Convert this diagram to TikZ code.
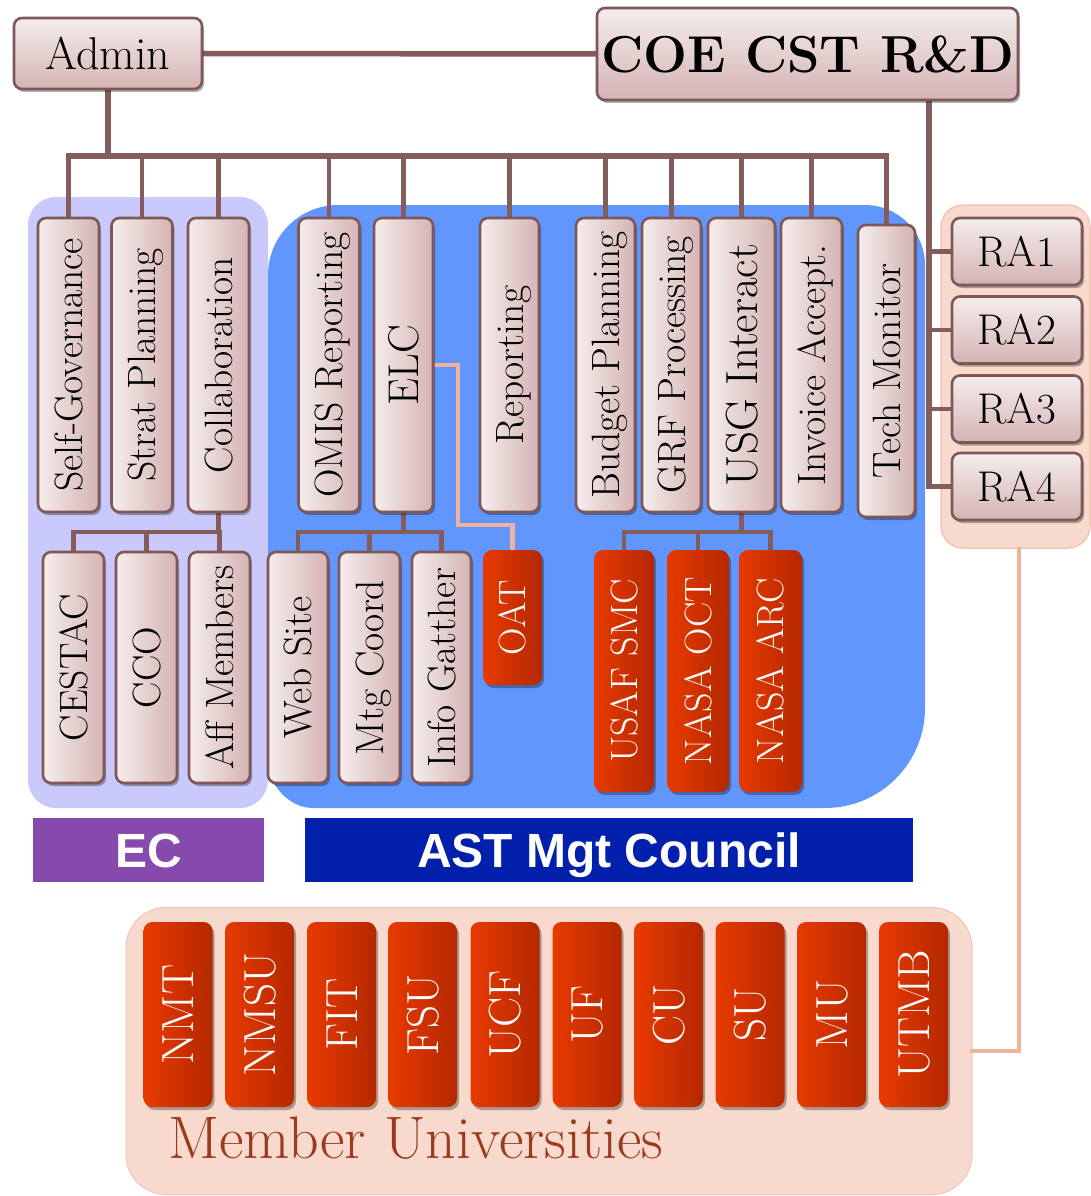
\documentclass[tikz,border=0pt]{standalone}
\usepackage{fontspec}
\newfontfamily\labfont{Liberation Sans}
\usetikzlibrary{shadows}
\definecolor{boxl}{HTML}{F5EDED}
\definecolor{boxd}{HTML}{D5B3B3}
\definecolor{bord}{HTML}{7E5757}
\definecolor{busc}{HTML}{845C5C}
\definecolor{redl}{HTML}{E83A00}
\definecolor{redd}{HTML}{B42800}
\definecolor{lilac}{HTML}{C9C9FB}
\definecolor{bluereg}{HTML}{6196FD}
\definecolor{salreg}{HTML}{F7D9CD}
\definecolor{saledge}{HTML}{F1C6B6}
\definecolor{salline}{HTML}{F0B29C}
\definecolor{ecpurple}{HTML}{8649AC}
\definecolor{astblue}{HTML}{0320AC}
\definecolor{memtxt}{HTML}{9B3B1E}
\pgfdeclarelayer{bgzero}
\pgfdeclarelayer{bgone}
\pgfsetlayers{bgzero,bgone,main}
\newcommand\vt[1]{\rotatebox{90}{\raisebox{0pt}[0.7em][0pt]{#1}}}
\tikzset{
  shad/.style={drop shadow={shadow xshift=2pt,shadow yshift=-3pt,opacity=0.3,fill=black}},
  pinkbox/.style={draw=bord, line width=2.6pt, rounded corners=8pt, inner sep=0pt, shad},
  vbox/.style={pinkbox, left color=boxl, right color=boxd, font=\fontsize{39.5}{40}\selectfont},
  hbox/.style={pinkbox, top color=boxl, bottom color=boxd},
  redbox/.style={rounded corners=9pt, inner sep=0pt, left color=redl, right color=redd, text=white, shad, font=\fontsize{38}{38}\selectfont},
  unibox/.style={redbox, font=\fontsize{45}{45}\selectfont, minimum width=69pt, minimum height=185pt},
  busline/.style={draw=busc, line width=5.5pt, line cap=rect},
  dropline/.style={draw=busc, line width=4.5pt, line cap=rect},
  salm/.style={draw=salline, line width=4.5pt, line cap=rect},
  tag/.style={inner sep=0pt, text=white, font=\labfont\bfseries\fontsize{48}{48}\selectfont, minimum height=64pt, text height=34.4pt, text depth=0pt},
}
\begin{document}
\begin{tikzpicture}[x=1pt,y=-1pt]
\useasboundingbox (0,0) rectangle (1090,1196);

% ---------- background regions ----------
\begin{pgfonlayer}{bgzero}
\node[fill=lilac, rounded corners=28pt, minimum width=240pt, minimum height=611pt, inner sep=0pt] (ecreg) at (148,502.5) {};
\fill[bluereg] (268,275) .. controls (268,236.4) and (299.4,205) .. (338,205)
  -- (865,205) .. controls (898.1,205) and (925,231.9) .. (925,265)
  -- (925,708) .. controls (925,763.2) and (880.2,808) .. (825,808)
  -- (313,808) .. controls (288.2,808) and (268,783.2) .. (268,763) -- cycle;
\node[fill=salreg, draw=saledge, line width=1.5pt, rounded corners=22pt, minimum width=149pt, minimum height=343pt, inner sep=0pt] (rareg) at (1015.5,376.5) {};
\node[fill=salreg, draw=saledge, line width=1pt, rounded corners=40pt, minimum width=846pt, minimum height=287pt, inner sep=0pt] (memreg) at (549,1051) {};
\end{pgfonlayer}

% ---------- top boxes ----------
\node[hbox, minimum width=188pt, minimum height=71pt, font=\fontsize{46}{46}\selectfont] (admin) at (108,53.5) {Admin};
\node[hbox, minimum width=421pt, minimum height=92pt, font=\bfseries\fontsize{52}{52}\selectfont] (coe) at (807.5,54) {COE CST R\&D};

% ---------- first row ----------
\node[vbox, minimum width=61pt, minimum height=294pt] (sg) at (68.5,365) {\vt{Self-Governance}};
\node[vbox, minimum width=61pt, minimum height=294pt] (sp) at (142,365) {\vt{Strat Planning}};
\node[vbox, minimum width=61pt, minimum height=294pt] (col) at (218.5,365) {\vt{Collaboration}};
\node[vbox, minimum width=61pt, minimum height=294pt] (omis) at (329,365) {\vt{OMIS Reporting}};
\node[vbox, minimum width=59pt, minimum height=294pt, font=\fontsize{43}{43}\selectfont] (elc) at (403.5,365) {\vt{ELC}};
\node[vbox, minimum width=59pt, minimum height=294pt] (rep) at (509.5,365) {\vt{Reporting}};
\node[vbox, minimum width=59pt, minimum height=294pt] (bud) at (605.5,365) {\vt{Budget Planning}};
\node[vbox, minimum width=59pt, minimum height=294pt] (grf) at (671.5,365) {\vt{GRF Processing}};
\node[vbox, minimum width=67pt, minimum height=294pt, font=\fontsize{45}{45}\selectfont] (usg) at (741.5,365) {\vt{USG Interact}};
\node[vbox, minimum width=61pt, minimum height=294pt] (inv) at (811.5,365) {\vt{Invoice Accept.}};
\node[vbox, minimum width=57pt, minimum height=292pt] (tm) at (886.5,371) {\vt{Tech Monitor}};

% ---------- RA boxes ----------
\node[hbox, minimum width=130pt, minimum height=67pt, font=\fontsize{43}{43}\selectfont] (ra1) at (1017,251.5) {RA1};
\node[hbox, minimum width=130pt, minimum height=67pt, font=\fontsize{43}{43}\selectfont] (ra2) at (1017,330) {RA2};
\node[hbox, minimum width=130pt, minimum height=67pt, font=\fontsize{43}{43}\selectfont] (ra3) at (1017,409) {RA3};
\node[hbox, minimum width=130pt, minimum height=67pt, font=\fontsize{43}{43}\selectfont] (ra4) at (1017,486.5) {RA4};

% ---------- second row ----------
\node[vbox, minimum width=61pt, minimum height=231pt] (cestac) at (73.5,667.5) {\vt{CESTAC}};
\node[vbox, minimum width=61pt, minimum height=231pt] (cco) at (146.5,667.5) {\vt{CCO}};
\node[vbox, minimum width=61pt, minimum height=231pt] (aff) at (219.5,667.5) {\vt{Aff Members}};
\node[vbox, minimum width=60pt, minimum height=231pt] (web) at (298,667.5) {\vt{Web Site}};
\node[vbox, minimum width=61pt, minimum height=231pt] (mtg) at (369.5,667.5) {\vt{Mtg Coord}};
\node[vbox, minimum width=59pt, minimum height=231pt] (info) at (441.5,667.5) {\vt{Info Gatther}};
\node[redbox, minimum width=59pt, minimum height=135pt] (oat) at (512.5,617.5) {\vt{OAT}};
\node[redbox, minimum width=60pt, minimum height=242pt] (usaf) at (624,671) {\vt{USAF SMC}};
\node[redbox, minimum width=62pt, minimum height=242pt] (noct) at (698,671) {\vt{NASA OCT}};
\node[redbox, minimum width=63pt, minimum height=242pt] (narc) at (770.5,671) {\vt{NASA ARC}};

% ---------- labels ----------
\node[tag, fill=ecpurple, minimum width=231pt] (ec) at (148.5,850) {EC};
\node[tag, fill=astblue, minimum width=608pt] (ast) at (609,850) {AST Mgt Council};

% ---------- universities ----------
\foreach \nm/\xx in {NMT/178, NMSU/259.5, FIT/341.5, FSU/422.5, UCF/505, UF/587, CU/668.5, SU/750, MU/831.5, UTMB/913.5}
  \node[unibox] (u\nm) at (\xx,1014.5) {\vt{\nm}};
\node[font=\fontsize{60}{60}\selectfont, text=memtxt, anchor=base west, inner sep=0pt] (memlab) at (168,1158) {Member Universities};

% ---------- connectors ----------
\begin{pgfonlayer}{bgone}
\coordinate (busy) at (0,156);
\coordinate (sby) at (0,532);
\draw[busline] (admin.east) -- (coe.west);
\draw[busline] (admin.south) -- (admin.south |- busy);
\draw[busline] (sg.north |- busy) -- (tm.north |- busy);
\foreach \n in {sg,sp,col,omis,elc,rep,bud,grf,usg,inv,tm}
  \draw[dropline] (\n.north) -- (\n.north |- busy);
% EC sub-tree
\draw[dropline] (col.south) -- (col.south |- sby);
\draw[dropline] (cestac.north |- sby) -- (aff.north |- sby);
\foreach \n in {cestac,cco,aff}
  \draw[dropline] (\n.north) -- (\n.north |- sby);
% ELC sub-tree
\draw[dropline] (elc.south) -- (elc.south |- sby);
\draw[dropline] (web.north |- sby) -- (info.north |- sby);
\foreach \n in {web,mtg,info}
  \draw[dropline] (\n.north) -- (\n.north |- sby);
% USG sub-tree
\draw[dropline] (usg.south) -- (usg.south |- sby);
\draw[dropline] (usaf.north |- sby) -- (narc.north |- sby);
\foreach \n in {usaf,noct,narc}
  \draw[dropline] (\n.north) -- (\n.north |- sby);
% OAT
\coordinate (oatk) at (458,525);
\draw[salm] (elc.east) -| (oatk) -| (oat.north);
% RA trunk
\coordinate (rat) at (929,0);
\draw[busline] (coe.south -| rat) -- (rat |- ra4.west);
\foreach \n in {ra1,ra2,ra3,ra4}
  \draw[dropline] (rat |- \n.west) -- (\n.west);
% RA region to member universities
\coordinate (mt) at (1019,0);
\draw[salm] (rareg.south -| mt) |- (memreg.east);
\end{pgfonlayer}
\end{tikzpicture}
\end{document}
